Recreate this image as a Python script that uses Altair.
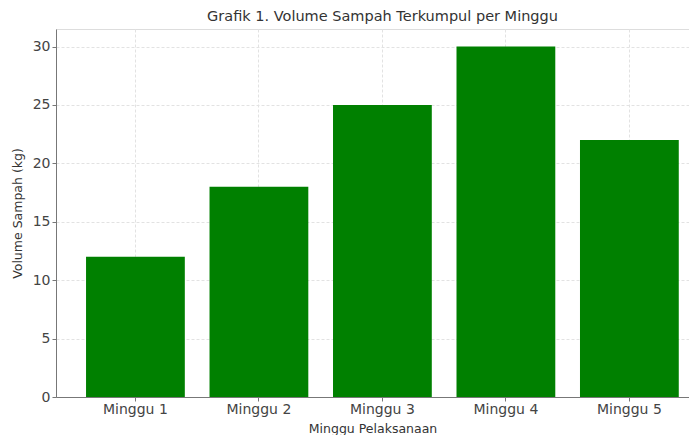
import altair as alt
import pandas as pd

weeks = ["Minggu 1", "Minggu 2", "Minggu 3", "Minggu 4", "Minggu 5"]
volumes = [12, 18, 25, 30, 22]
y_ticks = [0, 5, 10, 15, 20, 25, 30]

df = pd.DataFrame({"minggu": weeks, "volume": volumes})

chart = alt.Chart(df).mark_bar(color="#008000").encode(
    x=alt.X(
        "minggu:N",
        sort=weeks,
        title="Minggu Pelaksanaan",
        scale=alt.Scale(paddingInner=0.2, paddingOuter=0.163, align=0.746),
        axis=alt.Axis(
            labelAngle=0,
            labelFontSize=14,
            labelColor="#444",
            labelPadding=1,
            titleFontSize=12.5,
            titleColor="#333",
            titlePadding=6,
            tickSize=4,
            tickColor="#777",
            domainColor="#777",
            grid=True,
            gridColor="#e2e2e2",
            gridDash=[3, 2],
            labelFont="DejaVu Sans",
            titleFont="DejaVu Sans",
            titleFontWeight="normal",
        ),
    ),
    y=alt.Y(
        "volume:Q",
        title="Volume Sampah (kg)",
        scale=alt.Scale(domain=[0, 31.5], nice=False),
        axis=alt.Axis(
            values=y_ticks,
            labelFontSize=14,
            labelColor="#444",
            labelPadding=2,
            titleFontSize=12.5,
            titleColor="#333",
            titlePadding=8,
            tickSize=4,
            tickColor="#777",
            domainColor="#777",
            grid=True,
            gridColor="#e2e2e2",
            gridDash=[3, 2],
            labelFont="DejaVu Sans",
            titleFont="DejaVu Sans",
            titleFontWeight="normal",
        ),
    ),
).properties(
    width=633,
    height=368,
    padding={"left": 3, "top": 0, "right": 0, "bottom": 0},
    title=alt.TitleParams(
        "Grafik 1. Volume Sampah Terkumpul per Minggu",
        fontSize=14.5,
        font="DejaVu Sans",
        fontWeight="normal",
        color="#333",
        anchor="middle",
        dx=10,
        offset=5,
    ),
).configure_view(strokeOpacity=0, strokeWidth=0).configure(background="white")

chart.save("out.html", embed_options={"renderer": "svg", "actions": False})
